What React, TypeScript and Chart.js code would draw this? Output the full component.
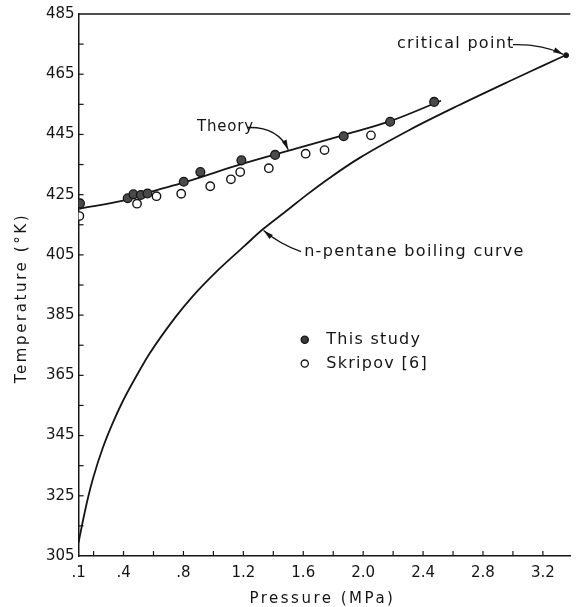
import React, { useEffect, useRef } from 'react';
import { Chart, registerables } from 'chart.js';

Chart.register(...registerables);

// ---- axis ticks ----
const xLabelValues = [0.1, 0.4, 0.8, 1.2, 1.6, 2.0, 2.4, 2.8, 3.2];
const xTickMarks = [0.2, 0.4, 0.6, 0.8, 1.0, 1.2, 1.4, 1.6, 1.8, 2.0, 2.2, 2.4, 2.6, 2.8, 3.0, 3.2];
const yLabelValues = [305, 325, 345, 365, 385, 405, 425, 445, 465, 485];
const yTickMarks = [315, 325, 335, 345, 355, 365, 375, 385, 395, 405, 415, 425, 435, 445, 455, 465, 475];

// ---- n-pentane boiling curve ----
const boilingPressure = [0.1, 0.131, 0.164, 0.197, 0.263, 0.329, 0.395, 0.484, 0.571, 0.748, 0.857, 1.034, 1.21, 1.33, 1.495, 1.627, 1.771, 1.979, 2.309, 2.639, 2.969, 3.19, 3.355];
const boilingTemperature = [309.5, 317.2, 324.6, 330.9, 341.1, 349.3, 356.4, 364.6, 372.0, 384.4, 391.0, 400.1, 408.1, 413.5, 419.9, 425.1, 430.4, 437.3, 446.5, 454.7, 462.5, 467.6, 471.4];

// ---- theory line ----
const theoryPressure = [0.105, 0.43, 0.57, 0.8, 1.19, 1.55, 1.87, 2.18, 2.52];
const theoryTemperature = [420.3, 423.4, 425.8, 429.0, 435.2, 440.3, 444.8, 449.4, 456.2];

// ---- this study (filled) ----
const thisStudyPressure = [0.109, 0.428, 0.466, 0.516, 0.56, 0.802, 0.913, 1.187, 1.412, 1.87, 2.18, 2.474];
const thisStudyTemperature = [422.1, 423.8, 425.1, 424.9, 425.4, 429.3, 432.5, 436.4, 438.2, 444.4, 449.2, 455.8];

// ---- Skripov [6] (open) ----
const skripovPressure = [0.105, 0.49, 0.62, 0.785, 0.979, 1.117, 1.179, 1.37, 1.616, 1.742, 2.052];
const skripovTemperature = [417.9, 422.0, 424.5, 425.3, 427.8, 430.1, 432.5, 433.8, 438.6, 439.8, 444.7];

// ---- critical point ----
const criticalPressure = [3.355];
const criticalTemperature = [471.3];

const FONT = '"DejaVu Sans", sans-serif';
const INK = '#151515';

const toXY = (xs: number[], ys: number[]) => xs.map((x, i) => ({ x, y: ys[i] }));

const fmtX = (v: number) => (v < 1 ? '.' + Math.round(v * 10) : v.toFixed(1));

const annotationPlugin = {
  id: 'annotations',
  afterDraw(chart: any) {
    const { ctx, chartArea: a } = chart;
    const sx = chart.scales.x;
    const sy = chart.scales.y;
    const X = (v: number) => sx.getPixelForValue(v);
    const Y = (v: number) => sy.getPixelForValue(v);
    ctx.save();
    ctx.strokeStyle = INK;
    ctx.fillStyle = INK;
    ctx.lineWidth = 1.5;

    // top frame line
    ctx.beginPath();
    ctx.moveTo(a.left, a.top);
    ctx.lineTo(a.right, a.top);
    ctx.stroke();

    // inward tick marks
    ctx.lineWidth = 1.2;
    for (const v of xTickMarks) {
      const px = X(v);
      ctx.beginPath();
      ctx.moveTo(px, a.bottom);
      ctx.lineTo(px, a.bottom - 5);
      ctx.stroke();
    }
    for (const v of yTickMarks) {
      const py = Y(v);
      ctx.beginPath();
      ctx.moveTo(a.left, py);
      ctx.lineTo(a.left + 5, py);
      ctx.stroke();
    }

    const text = (s: string, px: number, py: number, size: number, spacing: number, align: CanvasTextAlign = 'left') => {
      ctx.font = `${size}px ${FONT}`;
      (ctx as any).letterSpacing = `${spacing}px`;
      ctx.textAlign = align;
      ctx.textBaseline = 'middle';
      ctx.fillText(s, px, py);
      (ctx as any).letterSpacing = '0px';
    };

    const arrow = (p0: number[], c: number[], p1: number[]) => {
      const x0 = X(p0[0]), y0 = Y(p0[1]);
      const cx = X(c[0]), cy = Y(c[1]);
      const x1 = X(p1[0]), y1 = Y(p1[1]);
      ctx.lineWidth = 1.3;
      ctx.beginPath();
      ctx.moveTo(x0, y0);
      ctx.quadraticCurveTo(cx, cy, x1, y1);
      ctx.stroke();
      const ang = Math.atan2(y1 - cy, x1 - cx);
      const L = 10, W = 2.6;
      ctx.beginPath();
      ctx.moveTo(x1, y1);
      ctx.lineTo(x1 - L * Math.cos(ang) + W * Math.sin(ang), y1 - L * Math.sin(ang) - W * Math.cos(ang));
      ctx.lineTo(x1 - L * Math.cos(ang) - W * Math.sin(ang), y1 - L * Math.sin(ang) + W * Math.cos(ang));
      ctx.closePath();
      ctx.fill();
    };

    // annotations
    text('critical point', X(2.226), Y(475.0), 16, 1.3);
    arrow([3.0, 474.8], [3.2, 475.0], [3.335, 471.6]);

    text('Theory', X(0.89), Y(447.4), 15, 0.8);
    arrow([1.23, 447.3], [1.43, 447.6], [1.5, 439.9]);

    text('n-pentane boiling curve', X(1.606), Y(406.1), 16, 1.3);
    arrow([1.585, 406.1], [1.445, 408.5], [1.335, 413.1]);

    // legend
    ctx.lineWidth = 1.3;
    ctx.beginPath();
    ctx.arc(X(1.61), Y(376.8), 3.6, 0, Math.PI * 2);
    ctx.fillStyle = '#3a3a3a';
    ctx.fill();
    ctx.stroke();
    ctx.fillStyle = INK;
    text('This study', X(1.753), Y(376.8), 16, 1.3);
    ctx.beginPath();
    ctx.arc(X(1.61), Y(368.9), 3.6, 0, Math.PI * 2);
    ctx.fillStyle = '#fff';
    ctx.fill();
    ctx.stroke();
    ctx.fillStyle = INK;
    text('Skripov [6]', X(1.753), Y(368.9), 16, 1.3);

    // axis titles
    text('Pressure (MPa)', (a.left + a.right) / 2 - 2, 599, 15, 2.5, 'center');
    ctx.save();
    ctx.translate(22, 298);
    ctx.rotate(-Math.PI / 2);
    text('Temperature (°K)', 0, 0, 15, 2.6, 'center');
    ctx.restore();

    ctx.restore();
  },
};

export default function App() {
  const ref = useRef<HTMLCanvasElement | null>(null);
  useEffect(() => {
    if (!ref.current) return;
    const chart = new Chart(ref.current, {
      type: 'scatter',
      data: {
        datasets: [
          {
            label: 'Critical point',
            data: toXY(criticalPressure, criticalTemperature),
            pointRadius: 2.5,
            pointBackgroundColor: INK,
            pointBorderColor: INK,
            showLine: false,
          },
          {
            label: 'This study',
            data: toXY(thisStudyPressure, thisStudyTemperature),
            pointRadius: 4.4,
            pointBackgroundColor: '#4a4a4a',
            pointBorderColor: INK,
            pointBorderWidth: 1.3,
            showLine: false,
          },
          {
            label: 'Skripov [6]',
            data: toXY(skripovPressure, skripovTemperature),
            pointRadius: 4.2,
            pointBackgroundColor: '#ffffff',
            pointBorderColor: INK,
            pointBorderWidth: 1.4,
            showLine: false,
          },
          {
            label: 'Theory',
            data: toXY(theoryPressure, theoryTemperature),
            showLine: true,
            pointRadius: 0,
            borderColor: INK,
            borderWidth: 1.8,
            cubicInterpolationMode: 'monotone',
          },
          {
            label: 'n-pentane boiling curve',
            data: toXY(boilingPressure, boilingTemperature),
            showLine: true,
            pointRadius: 0,
            borderColor: INK,
            borderWidth: 1.8,
            cubicInterpolationMode: 'monotone',
          },
        ],
      } as any,
      options: {
        animation: false,
        responsive: true,
        maintainAspectRatio: false,
        layout: { padding: { top: 14, left: 0, right: 0, bottom: 0 } },
        plugins: { legend: { display: false }, tooltip: { enabled: false } },
        scales: {
          x: {
            type: 'linear',
            min: 0.1,
            max: 3.383,
            grid: { display: false, drawTicks: false },
            border: { display: true, color: INK, width: 1.5 },
            afterBuildTicks: (s: any) => {
              s.ticks = xLabelValues.map((v) => ({ value: v }));
            },
            afterFit: (s: any) => {
              s.height = 51;
            },
            ticks: {
              autoSkip: false,
              maxRotation: 0,
              padding: 8,
              color: INK,
              font: { family: FONT, size: 15 },
              callback: (v: any) => fmtX(Number(v)),
            },
          },
          y: {
            type: 'linear',
            min: 305,
            max: 485,
            grid: { display: false, drawTicks: false },
            border: { display: true, color: INK, width: 1.5 },
            afterBuildTicks: (s: any) => {
              s.ticks = yLabelValues.map((v) => ({ value: v }));
            },
            afterFit: (s: any) => {
              s.width = 78.6;
            },
            ticks: {
              autoSkip: false,
              padding: 4,
              color: INK,
              font: { family: FONT, size: 15 },
              callback: (v: any) => String(v),
            },
          },
        },
      },
      plugins: [annotationPlugin],
    } as any);
    return () => chart.destroy();
  }, []);
  return (
    <div style={{ position: 'absolute', left: 0, top: 0, width: 576, height: 607, background: '#fff' }}>
      <canvas ref={ref} />
    </div>
  );
}
